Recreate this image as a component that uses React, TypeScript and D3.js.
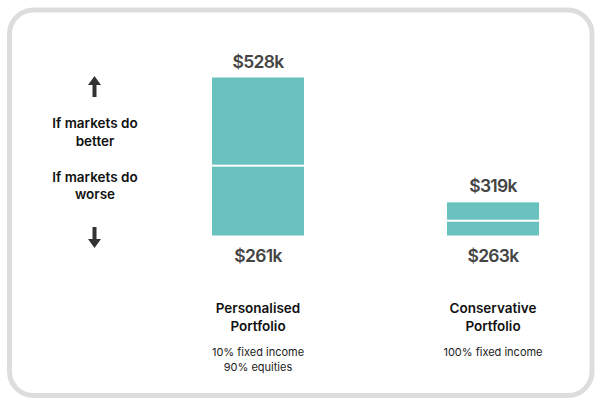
import React from "react";
import * as d3 from "d3";

const categories = ["Personalised", "Conservative"];
const titleLines = [["Personalised", "Portfolio"], ["Conservative", "Portfolio"]];
const allocations = [["10% fixed income", "90% equities"], ["100% fixed income"]];
const highValues = [528, 319];
const lowValues = [261, 263];
const midValues = [379, 288];
const upLabel = ["If markets do", "better"];
const downLabel = ["If markets do", "worse"];

const W = 600;
const H = 404;
const FONT = "Inter, 'Noto Sans', sans-serif";
const BAR_COLOR = "#69c2be";
const baseline = 235.5;
const barW = 92;

export default function App() {
  const x = d3.scalePoint<string>().domain(categories).range([258, 493]);
  const span = d3.scaleLinear().domain([0, 267]).range([0, 158]);

  const arrow = (cx: number, tipY: number, dir: 1 | -1) => {
    const headH = 9;
    const len = 21;
    const hw = 6.5;
    const sw = 2;
    const t = tipY;
    const hb = t + dir * headH;
    const end = t + dir * len;
    const p = d3.path();
    p.moveTo(cx, t);
    p.lineTo(cx + hw, hb);
    p.lineTo(cx + sw, hb);
    p.lineTo(cx + sw, end);
    p.lineTo(cx - sw, end);
    p.lineTo(cx - sw, hb);
    p.lineTo(cx - hw, hb);
    p.closePath();
    return <path d={p.toString()} fill="#333" />;
  };

  return (
    <svg width={W} height={H} style={{ position: "absolute", left: 0, top: 0 }} fontFamily={FONT}>
      <rect x={0} y={0} width={W} height={H} fill="#fff" />
      <rect x={9.5} y={10} width={582.5} height={385.5} rx={24} ry={24} fill="#fff" stroke="#dddddd" strokeWidth={5} />

      {arrow(94.5, 76, 1)}
      {arrow(94.5, 248, -1)}

      <g textAnchor="middle" fontWeight={600} fontSize={13.5} fill="#111">
        <text x={95} y={128}>{upLabel[0]}</text>
        <text x={95} y={146}>{upLabel[1]}</text>
        <text x={95} y={182}>{downLabel[0]}</text>
        <text x={95} y={199}>{downLabel[1]}</text>
      </g>

      {categories.map((c, i) => {
        const cx = x(c)!;
        const top = baseline - span(highValues[i] - lowValues[i]);
        const mid = baseline - span(midValues[i] - lowValues[i]);
        return (
          <g key={c}>
            <rect x={cx - barW / 2} y={top} width={barW} height={mid - top - 1} fill={BAR_COLOR} />
            <rect x={cx - barW / 2} y={mid + 1} width={barW} height={baseline - mid - 1} fill={BAR_COLOR} />
            <text x={cx} y={top - 10} textAnchor="middle" fontSize={17.5} letterSpacing={-0.7} fontWeight={600} fill="#444">
              ${highValues[i]}k
            </text>
            <text x={cx} y={baseline + 26} textAnchor="middle" fontSize={17.5} letterSpacing={-0.7} fontWeight={600} fill="#444">
              ${lowValues[i]}k
            </text>
            {titleLines[i].map((t, j) => (
              <text key={j} x={cx} y={313 + j * 18} textAnchor="middle" fontSize={13.5} fontWeight={600} fill="#111">
                {t}
              </text>
            ))}
            {allocations[i].map((t, j) => (
              <text key={j} x={cx} y={356 + j * 15} textAnchor="middle" fontSize={11} fill="#222">
                {t}
              </text>
            ))}
          </g>
        );
      })}
    </svg>
  );
}
